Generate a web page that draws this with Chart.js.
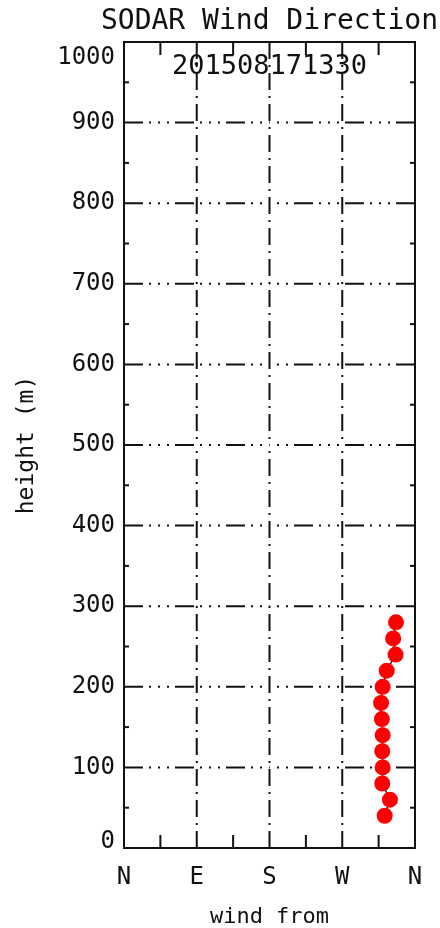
<!DOCTYPE html>
<html>
<head>
<meta charset="utf-8">
<script src="https://cdn.jsdelivr.net/npm/chart.js@4.4.1/dist/chart.umd.min.js"></script>
<style>
  body { margin: 0; background: #fff; }
  #wrap { width: 440px; height: 928px; }
</style>
</head>
<body>
<div id="wrap"><canvas id="myChart"></canvas></div>
<script>
// SODAR profile, 2015-08-17 13:30
const heights = [40, 60, 80, 100, 120, 140, 160, 180, 200, 220, 240, 260, 280];
const directions = [322.5, 329, 319.5, 320, 319.5, 320, 319, 318, 320, 325, 336, 333, 336.5];
const dirTicks = [0, 90, 180, 270, 360];
const dirLabels = ['N', 'E', 'S', 'W', 'N'];
const dirMinor = [45, 135, 225, 315];
const heightTicks = [0, 100, 200, 300, 400, 500, 600, 700, 800, 900, 1000];
const heightMinor = [50, 150, 250, 350, 450, 550, 650, 750, 850, 950];
const title = 'SODAR Wind Direction';
const stamp = '201508171330';

const mono = 'DejaVu Sans Mono';
const ink = '#111';

function line(ctx, x1, y1, x2, y2) {
    ctx.beginPath();
    ctx.moveTo(x1, y1);
    ctx.lineTo(x2, y2);
    ctx.stroke();
}

// IDL style box: grid drawn half from each side, inward ticks
const frame = {
    id: 'frame',
    beforeDatasetsDraw(chart) {
        const ctx = chart.ctx, a = chart.chartArea;
        const xs = chart.scales.x, ys = chart.scales.y;
        const midX = (a.left + a.right) / 2, midY = (a.top + a.bottom) / 2;
        ctx.save();
        ctx.strokeStyle = ink;
        ctx.lineWidth = 2;
        ctx.setLineDash([19, 6, 2, 7, 2, 7, 2, 6]);
        heightTicks.slice(1, -1).forEach(function(v) {
            const y = ys.getPixelForValue(v);
            line(ctx, a.left, y, midX, y);
            line(ctx, a.right, y, midX, y);
        });
        ctx.setLineDash([17, 6, 2, 6]);
        dirTicks.slice(1, -1).forEach(function(v) {
            const x = xs.getPixelForValue(v);
            line(ctx, x, a.top, x, midY);
            line(ctx, x, a.bottom, x, midY);
        });
        ctx.setLineDash([]);
        heightMinor.forEach(function(v) {
            const y = ys.getPixelForValue(v);
            line(ctx, a.left, y, a.left + 5, y);
            line(ctx, a.right, y, a.right - 5, y);
        });
        dirMinor.forEach(function(v) {
            const x = xs.getPixelForValue(v);
            line(ctx, x, a.top, x, a.top + 13);
            line(ctx, x, a.bottom, x, a.bottom - 13);
        });
        ctx.strokeRect(a.left, a.top, a.right - a.left, a.bottom - a.top);
        ctx.restore();
    },
    afterDraw(chart) {
        const ctx = chart.ctx, a = chart.chartArea;
        const ys = chart.scales.y;
        const cx = (a.left + a.right) / 2;
        ctx.save();
        ctx.fillStyle = ink;
        ctx.textBaseline = 'middle';
        ctx.font = '24px "' + mono + '"';
        ctx.textAlign = 'right';
        heightTicks.forEach(function(v) {
            let y = ys.getPixelForValue(v);
            y = Math.min(Math.max(y, a.top + 16), a.bottom - 6);
            ctx.fillText(String(v), a.left - 9, y);
        });
        ctx.textAlign = 'center';
        ctx.font = '27px "' + mono + '"';
        ctx.fillText(stamp, cx, a.top + 25);
        ctx.font = '28px "' + mono + '"';
        ctx.fillText(title, cx, 22);
        ctx.restore();
    }
};

const ctx = document.getElementById('myChart');
// eslint-disable-next-line no-unused-vars
const myChart = new Chart(ctx, {
    type: 'scatter',
    data: {
        datasets: [{
            data: heights.map(function(h, i) { return {x: directions[i], y: h}; }),
            showLine: true,
            borderColor: '#222',
            borderWidth: 1.5,
            pointRadius: 8,
            pointHoverRadius: 8,
            pointBackgroundColor: '#ff0000',
            pointBorderColor: '#ff0000',
            pointBorderWidth: 0
        }]
    },
    options: {
        responsive: true,
        maintainAspectRatio: false,
        animation: false,
        layout: { padding: { left: 0, right: 25, top: 42, bottom: 0 } },
        plugins: {
            legend: { display: false },
            tooltip: { enabled: false },
            title: { display: false }
        },
        scales: {
            x: {
                type: 'linear',
                min: 0,
                max: 360,
                afterBuildTicks: function(scale) {
                    scale.ticks = dirTicks.map(function(v) { return {value: v}; });
                },
                afterFit: function(scale) { scale.height = 80; },
                grid: { display: false, drawTicks: false },
                border: { display: false },
                ticks: {
                    autoSkip: false,
                    maxRotation: 0,
                    padding: 15,
                    color: ink,
                    font: { family: mono, size: 24 },
                    callback: function(value) { return dirLabels[dirTicks.indexOf(value)]; }
                },
                title: {
                    display: true,
                    text: 'wind from',
                    color: ink,
                    font: { family: mono, size: 22, lineHeight: 1.0 },
                    padding: { top: 0, bottom: 0 }
                }
            },
            y: {
                type: 'linear',
                min: 0,
                max: 1000,
                afterBuildTicks: function(scale) {
                    scale.ticks = heightTicks.map(function(v) { return {value: v}; });
                },
                afterFit: function(scale) { scale.width = 124; },
                grid: { display: false, drawTicks: false },
                border: { display: false },
                ticks: { display: false },
                title: {
                    display: true,
                    text: 'height (m)',
                    color: ink,
                    font: { family: mono, size: 23, lineHeight: 1.2 },
                    padding: { top: 13, bottom: 0 }
                }
            }
        }
    },
    plugins: [frame]
});
</script>
</body>
</html>
